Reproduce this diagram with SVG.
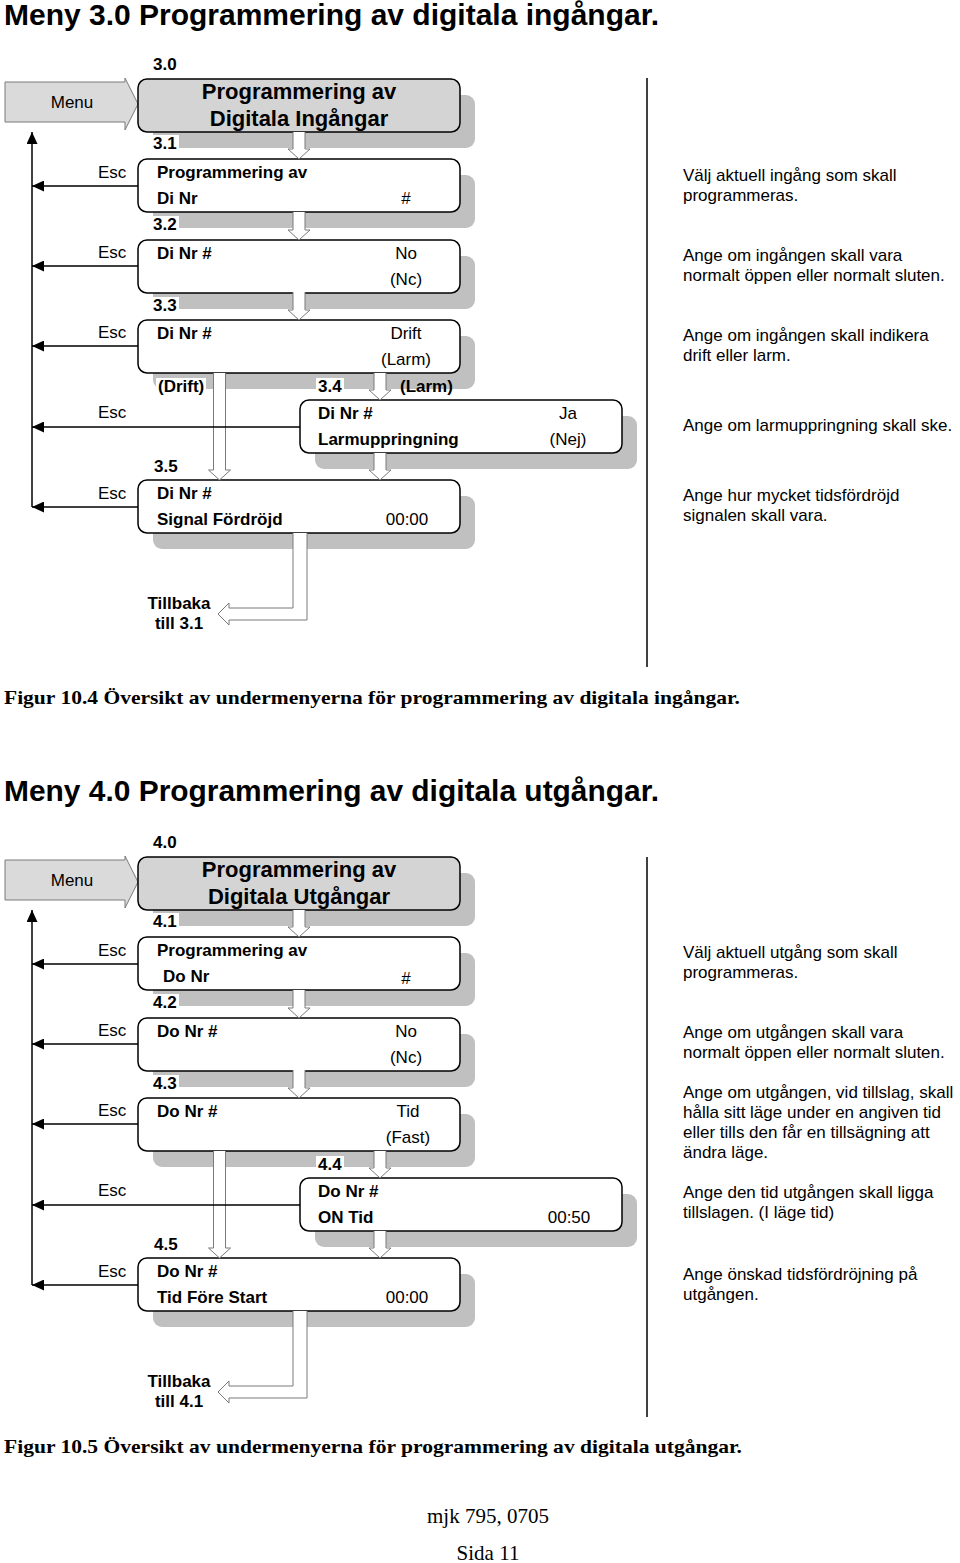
<svg xmlns="http://www.w3.org/2000/svg" width="960" height="1563" viewBox="0 0 960 1563">
<style>
text{font-family:"Liberation Sans",Arial,sans-serif;font-size:17px;fill:#000}
.b{font-weight:bold}
.m{text-anchor:middle}
.hd{font-size:22px;font-weight:bold;text-anchor:middle}
.ttl{font-size:30px;font-weight:bold}
.cap{font-family:"Liberation Serif","Times New Roman",serif;font-size:19px;font-weight:bold}
.ft{font-family:"Liberation Serif","Times New Roman",serif;font-size:21px;text-anchor:middle}
.box{fill:#fff;stroke:#000;stroke-width:1.5}
.hbox{fill:#d4d4d4;stroke:#000;stroke-width:1.5}
.shd{fill:#c0c0c0}
.bg{fill:#fff}
.ha{fill:#fff;stroke:#7a7a7a;stroke-width:1}
.menu{fill:#dadada;stroke:#7a7a7a;stroke-width:1}
.esc{stroke:#000;stroke-width:1.5;fill:none;marker-end:url(#ah)}
.sep{stroke:#000;stroke-width:1.5}
</style>
<defs>
<marker id="ah" markerUnits="userSpaceOnUse" markerWidth="13" markerHeight="11" refX="12" refY="5.5" orient="auto"><path d="M0,0 L12,5.5 L0,11 Z" fill="#000"/></marker>
</defs>

<text class="ttl" x="4" y="25" textLength="655" lengthAdjust="spacingAndGlyphs">Meny 3.0 Programmering av digitala ingångar.</text>

<!-- Section 3 nodes -->
<g id="menu3">
<path class="menu" d="M5,82 H125 V78 L138,104 L125,130 V122 H5 Z"/>
<text x="72" y="108" class="m" font-size="15">Menu</text>
</g>
<g id="n30">
<rect class="shd" x="153" y="95" width="322" height="53" rx="9"/>
<rect class="hbox" x="138" y="79" width="322" height="53" rx="9"/>
<text class="hd" x="299" y="99">Programmering av</text>
<text class="hd" x="299" y="126">Digitala Ingångar</text>
<text class="b" x="153" y="70">3.0</text>
</g>
<g id="n31">
<rect class="bg" x="151" y="135" width="28" height="15"/>
<text class="b" x="153" y="149">3.1</text>
<rect class="shd" x="153" y="175" width="322" height="53" rx="9"/>
<rect class="box" x="138" y="159" width="322" height="53" rx="9"/>
<text class="b" x="157" y="178">Programmering av</text>
<text class="b" x="157" y="204">Di Nr</text>
<text class="m" x="406" y="204">#</text>
</g>
<g id="n32">
<rect class="bg" x="151" y="216" width="28" height="15"/>
<text class="b" x="153" y="230">3.2</text>
<rect class="shd" x="153" y="256" width="322" height="53" rx="9"/>
<rect class="box" x="138" y="240" width="322" height="53" rx="9"/>
<text class="b" x="157" y="259">Di Nr #</text>
<text class="m" x="406" y="259">No</text>
<text class="m" x="406" y="285">(Nc)</text>
</g>
<g id="n33">
<rect class="bg" x="151" y="297" width="28" height="15"/>
<text class="b" x="153" y="311">3.3</text>
<rect class="shd" x="153" y="336" width="322" height="53" rx="9"/>
<rect class="box" x="138" y="320" width="322" height="53" rx="9"/>
<text class="b" x="157" y="339">Di Nr #</text>
<text class="m" x="406" y="339">Drift</text>
<text class="m" x="406" y="365">(Larm)</text>
</g>
<g id="n34">
<rect class="bg" x="316" y="378" width="28" height="15"/>
<text class="b" x="318" y="392">3.4</text>
<rect class="shd" x="315" y="416" width="322" height="53" rx="9"/>
<rect class="box" x="300" y="400" width="322" height="53" rx="9"/>
<text class="b" x="318" y="419">Di Nr #</text>
<text class="b" x="318" y="445">Larmuppringning</text>
<text class="m" x="568" y="419">Ja</text>
<text class="m" x="568" y="445">(Nej)</text>
</g>
<g id="n35">
<rect class="bg" x="152" y="458" width="28" height="15"/>
<text class="b" x="154" y="472">3.5</text>
<rect class="shd" x="153" y="496" width="322" height="53" rx="9"/>
<rect class="box" x="138" y="480" width="322" height="53" rx="9"/>
<text class="b" x="157" y="499">Di Nr #</text>
<text class="b" x="157" y="525">Signal Fördröjd</text>
<text class="m" x="407" y="525">00:00</text>
</g>

<g id="connectors3">
<path class="ha" d="M293,132 V149 H288 L299,159 L310,149 H305 V132"/>
<path class="ha" d="M293,212 V230 H288 L299,240 L310,230 H305 V212"/>
<path class="ha" d="M293,292 V310 H288 L299,320 L310,310 H305 V292"/>
<path class="ha" d="M374,373 V390 H369 L380,400 L391,390 H386 V373"/>
<path class="ha" d="M213.5,373 V470 H208.5 L219.5,480 L230.5,470 H225.5 V373"/>
<path class="ha" d="M374,453 V470 H369 L380,480 L391,470 H386 V453"/>
<path class="ha" d="M293,533 V608 H229 V603 L218,614 L229,625 V620 H307 V533"/>
<line class="esc" x1="138" y1="186" x2="32" y2="186"/>
<line class="esc" x1="138" y1="266" x2="32" y2="266"/>
<line class="esc" x1="138" y1="346" x2="32" y2="346"/>
<line class="esc" x1="300" y1="427" x2="32" y2="427"/>
<line class="esc" x1="138" y1="507" x2="32" y2="507"/>
<line class="esc" x1="32" y1="507" x2="32" y2="132"/>
<text x="98" y="178">Esc</text>
<text x="98" y="258">Esc</text>
<text x="98" y="338">Esc</text>
<text x="98" y="418">Esc</text>
<text x="98" y="499">Esc</text>
<rect class="bg" x="156" y="378" width="50" height="16"/>
<text class="b" x="158" y="392">(Drift)</text>
<text class="b" x="400" y="392">(Larm)</text>
<text class="b m" x="179" y="609">Tillbaka</text>
<text class="b m" x="179" y="629">till 3.1</text>
</g>

<line class="sep" x1="647" y1="78" x2="647" y2="667"/>
<g id="desc3">
<text x="683" y="181">Välj aktuell ingång som skall</text>
<text x="683" y="201">programmeras.</text>
<text x="683" y="261">Ange om ingången skall vara</text>
<text x="683" y="281">normalt öppen eller normalt sluten.</text>
<text x="683" y="341">Ange om ingången skall indikera</text>
<text x="683" y="361">drift eller larm.</text>
<text x="683" y="431">Ange om larmuppringning skall ske.</text>
<text x="683" y="501">Ange hur mycket tidsfördröjd</text>
<text x="683" y="521">signalen skall vara.</text>
</g>

<text class="cap" x="4" y="704" textLength="736" lengthAdjust="spacingAndGlyphs">Figur 10.4 Översikt av undermenyerna för programmering av digitala ingångar.</text>

<text class="ttl" x="4" y="801" textLength="655" lengthAdjust="spacingAndGlyphs">Meny 4.0 Programmering av digitala utgångar.</text>

<!-- Section 4 nodes -->
<g id="menu4">
<path class="menu" d="M5,860 H125 V856 L138,882 L125,908 V900 H5 Z"/>
<text x="72" y="886" class="m" font-size="15">Menu</text>
</g>
<g id="n40">
<rect class="shd" x="153" y="873" width="322" height="53" rx="9"/>
<rect class="hbox" x="138" y="857" width="322" height="53" rx="9"/>
<text class="hd" x="299" y="877">Programmering av</text>
<text class="hd" x="299" y="904">Digitala Utgångar</text>
<text class="b" x="153" y="848">4.0</text>
</g>
<g id="n41">
<rect class="bg" x="151" y="913" width="28" height="15"/>
<text class="b" x="153" y="927">4.1</text>
<rect class="shd" x="153" y="953" width="322" height="53" rx="9"/>
<rect class="box" x="138" y="937" width="322" height="53" rx="9"/>
<text class="b" x="157" y="956">Programmering av</text>
<text class="b" x="163" y="982">Do Nr</text>
<text class="m" x="406" y="984" font-size="21">#</text>
</g>
<g id="n42">
<rect class="bg" x="151" y="994" width="28" height="15"/>
<text class="b" x="153" y="1008">4.2</text>
<rect class="shd" x="153" y="1034" width="322" height="53" rx="9"/>
<rect class="box" x="138" y="1018" width="322" height="53" rx="9"/>
<text class="b" x="157" y="1037">Do Nr #</text>
<text class="m" x="406" y="1037">No</text>
<text class="m" x="406" y="1063">(Nc)</text>
</g>
<g id="n43">
<rect class="bg" x="151" y="1075" width="28" height="15"/>
<text class="b" x="153" y="1089">4.3</text>
<rect class="shd" x="153" y="1114" width="322" height="53" rx="9"/>
<rect class="box" x="138" y="1098" width="322" height="53" rx="9"/>
<text class="b" x="157" y="1117">Do Nr #</text>
<text class="m" x="408" y="1117">Tid</text>
<text class="m" x="408" y="1143">(Fast)</text>
</g>
<g id="n44">
<rect class="bg" x="316" y="1156" width="28" height="15"/>
<text class="b" x="318" y="1170">4.4</text>
<rect class="shd" x="315" y="1194" width="322" height="53" rx="9"/>
<rect class="box" x="300" y="1178" width="322" height="53" rx="9"/>
<text class="b" x="318" y="1197">Do Nr #</text>
<text class="b" x="318" y="1223">ON Tid</text>
<text class="m" x="569" y="1223">00:50</text>
</g>
<g id="n45">
<rect class="bg" x="152" y="1236" width="28" height="15"/>
<text class="b" x="154" y="1250">4.5</text>
<rect class="shd" x="153" y="1274" width="322" height="53" rx="9"/>
<rect class="box" x="138" y="1258" width="322" height="53" rx="9"/>
<text class="b" x="157" y="1277">Do Nr #</text>
<text class="b" x="157" y="1303">Tid Före Start</text>
<text class="m" x="407" y="1303">00:00</text>
</g>

<g id="connectors4">
<path class="ha" d="M293,910 V927 H288 L299,937 L310,927 H305 V910"/>
<path class="ha" d="M293,990 V1008 H288 L299,1018 L310,1008 H305 V990"/>
<path class="ha" d="M293,1070 V1088 H288 L299,1098 L310,1088 H305 V1070"/>
<path class="ha" d="M374,1151 V1168 H369 L380,1178 L391,1168 H386 V1151"/>
<path class="ha" d="M213.5,1151 V1248 H208.5 L219.5,1258 L230.5,1248 H225.5 V1151"/>
<path class="ha" d="M374,1231 V1248 H369 L380,1258 L391,1248 H386 V1231"/>
<path class="ha" d="M293,1311 V1386 H229 V1381 L218,1392 L229,1403 V1398 H307 V1311"/>
<line class="esc" x1="138" y1="964" x2="32" y2="964"/>
<line class="esc" x1="138" y1="1044" x2="32" y2="1044"/>
<line class="esc" x1="138" y1="1124" x2="32" y2="1124"/>
<line class="esc" x1="300" y1="1205" x2="32" y2="1205"/>
<line class="esc" x1="138" y1="1285" x2="32" y2="1285"/>
<line class="esc" x1="32" y1="1285" x2="32" y2="910"/>
<text x="98" y="956">Esc</text>
<text x="98" y="1036">Esc</text>
<text x="98" y="1116">Esc</text>
<text x="98" y="1196">Esc</text>
<text x="98" y="1277">Esc</text>
<text class="b m" x="179" y="1387">Tillbaka</text>
<text class="b m" x="179" y="1407">till 4.1</text>
</g>

<line class="sep" x1="647" y1="857" x2="647" y2="1417"/>
<g id="desc4">
<text x="683" y="958">Välj aktuell utgång som skall</text>
<text x="683" y="978">programmeras.</text>
<text x="683" y="1038">Ange om utgången skall vara</text>
<text x="683" y="1058">normalt öppen eller normalt sluten.</text>
<text x="683" y="1098">Ange om utgången, vid tillslag, skall</text>
<text x="683" y="1118">hålla sitt läge under en angiven tid</text>
<text x="683" y="1138">eller tills den får en tillsägning att</text>
<text x="683" y="1158">ändra läge.</text>
<text x="683" y="1198">Ange den tid utgången skall ligga</text>
<text x="683" y="1218">tillslagen. (I läge tid)</text>
<text x="683" y="1280">Ange önskad tidsfördröjning på</text>
<text x="683" y="1300">utgången.</text>
</g>

<text class="cap" x="4" y="1453" textLength="738" lengthAdjust="spacingAndGlyphs">Figur 10.5 Översikt av undermenyerna för programmering av digitala utgångar.</text>

<text class="ft" x="488" y="1523">mjk 795, 0705</text>
<text class="ft" x="488" y="1560">Sida 11</text>
</svg>
